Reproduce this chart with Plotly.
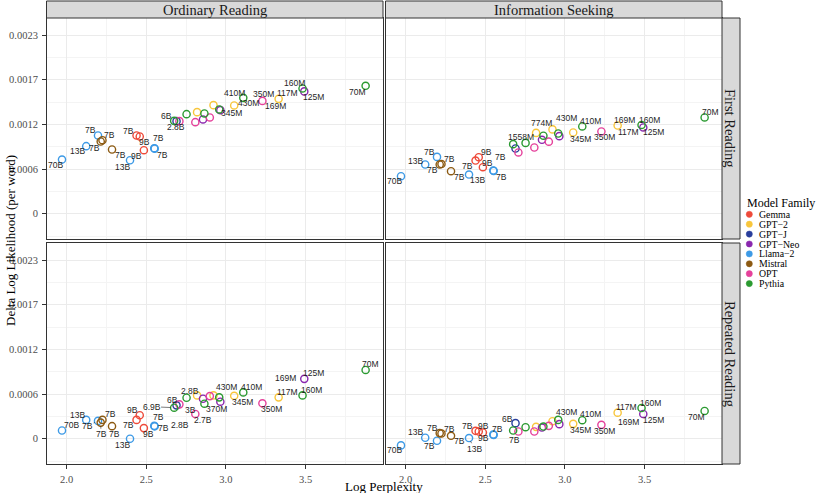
import plotly.graph_objects as go

W, H = 822, 493

# ---------------- data ----------------
families = ["Gemma", "GPT\u22122", "GPT\u2212J", "GPT\u2212Neo", "Llama\u22122", "Mistral", "OPT", "Pythia"]
family_colors = ["#EE4A3A", "#F8C63C", "#293E9C", "#8A27AE", "#3D9AE6", "#8C5A12", "#E5419B", "#2B9A31"]

model_family = ["Llama\u22122", "Llama\u22122", "Llama\u22122", "Mistral", "Mistral", "Mistral", "Llama\u22122",
                "Gemma", "Gemma", "Gemma", "Llama\u22122", "Llama\u22122", "Pythia", "GPT\u2212J", "OPT",
                "Pythia", "OPT", "GPT\u22122", "GPT\u2212Neo", "Pythia", "OPT", "GPT\u22122", "Pythia",
                "GPT\u2212Neo", "GPT\u22122", "Pythia", "OPT", "GPT\u22122", "Pythia", "GPT\u2212Neo", "Pythia"]

log_perplexity = [1.971, 2.123, 2.197, 2.214, 2.225, 2.285, 2.398, 2.439, 2.459, 2.485, 2.550, 2.553,
                  2.675, 2.690, 2.708, 2.753, 2.808, 2.819, 2.856, 2.865, 2.899, 2.922, 2.958, 2.965,
                  3.052, 3.109, 3.229, 3.331, 3.481, 3.492, 3.877]

dll_ordinary_first = [0.000698, 0.000870, 0.001008, 0.000930, 0.000947, 0.000827, 0.000689, 0.001008,
                      0.000995, 0.000818, 0.000844, 0.000838, 0.001196, 0.001192, 0.001192, 0.001282,
                      0.001179, 0.001308, 0.001214, 0.001291, 0.001240, 0.001398, 0.001343, 0.001334,
                      0.001394, 0.001492, 0.001453, 0.001479, 0.001613, 0.001575, 0.001647]
dll_info_first = [0.000483, 0.000634, 0.000732, 0.000634, 0.000640, 0.000548, 0.000505, 0.000685,
                  0.000728, 0.000599, 0.000557, 0.000552, 0.000896, 0.000840, 0.000789, 0.000912,
                  0.000853, 0.001041, 0.000952, 0.001005, 0.000928, 0.001086, 0.001033, 0.000999,
                  0.001046, 0.001124, 0.001059, 0.001136, 0.001143, 0.001111, 0.001240]
dll_ordinary_repeated = [0.000106, 0.000243, 0.000230, 0.000208, 0.000243, 0.000162, 0.0, 0.000243,
                         0.000303, 0.000137, 0.000166, 0.000160, 0.000400, 0.000430, 0.000443, 0.000528,
                         0.000319, 0.000558, 0.000515, 0.000451, 0.000549, 0.000558, 0.000533, 0.000477,
                         0.000553, 0.000597, 0.000456, 0.000533, 0.000558, 0.000771, 0.000886]
dll_info_repeated = [-0.0000856, 0.0000128, -0.0000256, 0.0000728, 0.0000677, 0.0000383, 0.0000089,
                     0.000102, 0.0000933, 0.0000805, 0.000055, 0.000050, 0.000106, 0.000201, 0.0000933,
                     0.000149, 0.0000933, 0.000153, 0.000144, 0.000157, 0.000166, 0.000226, 0.000243,
                     0.000188, 0.000192, 0.000239, 0.000179, 0.000336, 0.000396, 0.000319, 0.000358]

col_titles = ["Ordinary Reading", "Information Seeking"]
row_titles = ["First Reading", "Repeated Reading"]

x_tickvals = [2.0, 2.5, 3.0, 3.5]
x_ticktext = ["2.0", "2.5", "3.0", "3.5"]
y_tickvals = [0, 0.000575, 0.00115, 0.001725, 0.0023]
y_ticktext = ["0", "0.0006", "0.0012", "0.0017", "0.0023"]

# label placement (model index, text, dx px, dy px, leader line) -- repel-style layout
labels_tl = [(0, "70B", -6.3, 5.7, 0), (1, "13B", -8.6, 4.7, 0), (2, "7B", -8, -5.3, 0), (3, "7B", -6, 6.7, 0),
             (4, "7B", 7.3, -4.7, 0), (5, "7B", 8, 5.4, 0), (6, "13B", -7.3, 6.7, 0), (7, "7B", -8, -4.6, 0),
             (8, "9B", 5, 5.4, 0), (9, "9B", -7.3, 5.7, 0), (10, "7B", 4.7, -10, 0), (11, "7B", 7.4, 6, 0),
             (12, "2.8B", 2, 6, 0), (13, "6B", -10.3, -5, 0), (23, "345M", 11.4, 3.3, 0),
             (24, "430M", 14.3, -2, 0), (25, "410M", -8.3, -5, 0), (26, "350M", 1, -6.4, 0),
             (27, "117M", 9, -6, 0), (27, "169M", -3, 7, 0), (28, "160M", -7.7, -5.6, 0),
             (29, "125M", 9, 5.4, 0), (30, "70M", -8.4, 6.3, 0)]
labels_tr = [(0, "70B", -7, 5, 0), (1, "13B", -10, -3.3, 0), (2, "7B", -8, -5, 0), (3, "7B", -7.3, 5.7, 0),
             (4, "7B", 7.7, -5, 0), (5, "7B", 8, 5.7, 0), (6, "13B", 8, 5, 0), (7, "7B", -7.6, 5.4, 0),
             (8, "9B", 7.7, -5.3, 0), (9, "9B", 5, -4.3, 0), (10, "7B", 7, -13.6, 0), (11, "7B", 7.3, 5.7, 0),
             (12, "1558M", 8, -7.3, 0), (17, "774M", 5.3, -9.4, 0), (21, "430M", 13.7, -11.3, 0),
             (24, "345M", 7, 6, 0), (25, "410M", 8.3, -5, 0), (26, "350M", 3, 6, 0),
             (27, "169M", 7, -5.3, 0), (27, "117M", 11, 6, 0), (28, "160M", 8, -5.3, 0),
             (29, "125M", 10.7, 5, 0), (30, "70M", 6, -5.3, 0)]
labels_bl = [(0, "70B", 9, -5.7, 0), (1, "13B", -8.6, -5.3, 0), (2, "7B", -10.4, 5, 1), (3, "7B", 0.3, 11.6, 1),
             (4, "7B", 8, -6, 0), (5, "7B", 2.7, 8, 0), (6, "13B", -7.3, 6.7, 0), (7, "7B", -7.7, 5, 0),
             (8, "9B", -7.3, -5.3, 0), (9, "9B", 4.3, 5.7, 0), (10, "7B", 4.7, -9.3, 0), (11, "7B", 8.4, 1.7, 0),
             (12, "6.9B", -22.6, -1, 1), (13, "6B", -4.3, -5.4, 0), (14, "2.8B", 0.7, 20.7, 0),
             (15, "2.8B", 3.3, -7, 0), (16, "3B", -5.3, -3.7, 0), (16, "2.7B", 8, 6, 0),
             (19, "370M", 12.4, 5.6, 0), (21, "430M", 13.4, -8.6, 0), (24, "345M", 8, 6.3, 0),
             (25, "410M", 8.4, -5.6, 0), (26, "350M", 8.7, 6, 0), (27, "117M", 8.6, -5.6, 0),
             (28, "160M", 9, -5.3, 0), (29, "125M", 9, -5.4, 0), (29, "169M", -18.3, -1, 0),
             (30, "70M", 5.3, -5.7, 0)]
labels_br = [(0, "70B", -6.7, 5, 0), (1, "13B", -10, -5.3, 0), (2, "7B", -8, 5, 0), (3, "7B", -7.6, -5, 0),
             (4, "7B", 7.7, -4.7, 0), (5, "7B", 8, 5, 0), (6, "13B", 5.3, 10.7, 1), (7, "7B", -7.6, -5.3, 0),
             (8, "9B", 5, -6, 0), (9, "9B", 0.6, 5.6, 0), (10, "7B", 4.7, -5.4, 0), (11, "7B", 20.3, 5.3, 0),
             (13, "6B", -7.6, -4.6, 0), (21, "430M", 13.7, -9, 0), (24, "345M", 7.7, 6.3, 0),
             (25, "410M", 8.3, -6, 0), (26, "350M", 3, 6, 0), (27, "117M", 8.7, -5.7, 0),
             (27, "169M", 11, 9, 0), (28, "160M", 9, -5.3, 0), (29, "125M", 10.7, 6, 0),
             (30, "70M", -8.3, 6.3, 0)]

panels = [  # (row, col, values, labels)
    (0, 0, dll_ordinary_first, labels_tl),
    (0, 1, dll_info_first, labels_tr),
    (1, 0, dll_ordinary_repeated, labels_bl),
    (1, 1, dll_info_repeated, labels_br),
]

# ---------------- layout geometry (pixels) ----------------
col_px = [(46.5, 383.0), (385.5, 722.0)]
row_px = [(18.0, 239.0), (243.0, 464.0)]
strip_top = (1.0, 18.0)
strip_right = (722.0, 740.0)
x_range = [1.8737, 3.9861]
y_range = [-0.000325, 0.00252]

SERIF = "Liberation Serif"
SANS = "Liberation Sans"
color_of = dict(zip(families, family_colors))


def fx(p):
    return p / W


def fy(p):
    return 1 - p / H


fig = go.Figure()
annotations = []
shapes = []
layout = {}

for (r, c, vals, labs) in panels:
    k = r * 2 + c + 1
    xa = "x" if k == 1 else f"x{k}"
    ya = "y" if k == 1 else f"y{k}"
    for fam in families:
        idx = [i for i, f in enumerate(model_family) if f == fam]
        if not idx:
            continue
        fig.add_trace(go.Scatter(
            x=[log_perplexity[i] for i in idx], y=[vals[i] for i in idx],
            mode="markers", xaxis=xa, yaxis=ya, showlegend=False, hoverinfo="skip",
            marker=dict(symbol="circle-open", size=7.2, color=color_of[fam],
                        line=dict(width=1.4, color=color_of[fam])),
            cliponaxis=False,
        ))
    for (i, txt, dx, dy, lead) in labs:
        annotations.append(dict(
            x=log_perplexity[i], y=vals[i], xref=xa, yref=ya, text=txt,
            showarrow=True, ax=dx, ay=dy, axref="pixel", ayref="pixel",
            arrowhead=0, arrowwidth=0.6, standoff=3.5,
            arrowcolor="#222222" if lead else "rgba(0,0,0,0)",
            font=dict(family=SANS, size=8.5, color="#1F1F1F"),
            borderpad=0,
        ))
    bottom = r == 1
    left = c == 0
    layout["xaxis" if k == 1 else f"xaxis{k}"] = dict(
        domain=[fx(col_px[c][0]), fx(col_px[c][1])], range=x_range, anchor=ya,
        tickmode="array", tickvals=x_tickvals, ticktext=x_ticktext,
        showticklabels=bottom, ticks="outside" if bottom else "", ticklen=3.5, tickwidth=0.8,
        tickcolor="#333333", showline=True, mirror=True, linecolor="#333333", linewidth=1,
        showgrid=True, gridcolor="#EBEBEB", gridwidth=0.9, zeroline=False,
        minor=dict(tickvals=[1.75, 2.25, 2.75, 3.25, 3.75], showgrid=True, gridcolor="#F4F4F4",
                   gridwidth=0.6, ticks=""),
        tickfont=dict(family=SERIF, size=10.5, color="#4D4D4D"), ticklabelstandoff=2,
    )
    layout["yaxis" if k == 1 else f"yaxis{k}"] = dict(
        domain=[fy(row_px[r][1]), fy(row_px[r][0])], range=y_range, anchor=xa,
        tickmode="array", tickvals=y_tickvals, ticktext=y_ticktext,
        showticklabels=left, ticks="outside" if left else "", ticklen=3.5, tickwidth=0.8,
        tickcolor="#333333", showline=True, mirror=True, linecolor="#333333", linewidth=1,
        showgrid=True, gridcolor="#EBEBEB", gridwidth=0.9, zeroline=False,
        minor=dict(tickvals=[-0.0002875, 0.0002875, 0.0008625, 0.0014375, 0.0020125], showgrid=True,
                   gridcolor="#F4F4F4", gridwidth=0.6, ticks=""),
        tickfont=dict(family=SERIF, size=10.5, color="#4D4D4D"), ticklabelstandoff=2,
    )

# strips
for c, title in enumerate(col_titles):
    shapes.append(dict(type="rect", xref="paper", yref="paper",
                       x0=fx(col_px[c][0]), x1=fx(col_px[c][1]), y0=fy(strip_top[1]), y1=fy(strip_top[0]),
                       fillcolor="#D9D9D9", line=dict(color="#333333", width=1)))
    annotations.append(dict(x=fx((col_px[c][0] + col_px[c][1]) / 2), y=fy((strip_top[0] + strip_top[1]) / 2 + 0.5),
                            xref="paper", yref="paper", text=title, showarrow=False,
                            xanchor="center", yanchor="middle",
                            font=dict(family=SERIF, size=14.5, color="#1A1A1A")))
for r, title in enumerate(row_titles):
    shapes.append(dict(type="rect", xref="paper", yref="paper",
                       x0=fx(strip_right[0]), x1=fx(strip_right[1]), y0=fy(row_px[r][1]), y1=fy(row_px[r][0]),
                       fillcolor="#D9D9D9", line=dict(color="#333333", width=1)))
    annotations.append(dict(x=fx((strip_right[0] + strip_right[1]) / 2 - 0.5), y=fy((row_px[r][0] + row_px[r][1]) / 2),
                            xref="paper", yref="paper", text=title, showarrow=False, textangle=90,
                            xanchor="center", yanchor="middle",
                            font=dict(family=SERIF, size=14.5, color="#1A1A1A")))

# axis titles
annotations.append(dict(x=fx(384), y=fy(486), xref="paper", yref="paper", text="Log Perplexity",
                        showarrow=False, xanchor="center", yanchor="middle",
                        font=dict(family=SERIF, size=13, color="black")))
annotations.append(dict(x=fx(10), y=fy(241), xref="paper", yref="paper", text="Delta Log Likelihood (per word)",
                        showarrow=False, xanchor="center", yanchor="middle", textangle=-90,
                        font=dict(family=SERIF, size=13, color="black")))

# legend (drawn by hand, ggplot style)
annotations.append(dict(x=fx(744.5), y=fy(203), xref="paper", yref="paper", text="Model Family",
                        showarrow=False, xanchor="left", yanchor="middle",
                        font=dict(family=SERIF, size=12, color="black")))
for j, (fam, col) in enumerate(zip(families, family_colors)):
    yc = 214.3 + j * 9.9
    shapes.append(dict(type="circle", xref="paper", yref="paper",
                       x0=fx(749.3 - 3.1), x1=fx(749.3 + 3.1), y0=fy(yc + 3.1), y1=fy(yc - 3.1),
                       fillcolor=col, line=dict(color=col, width=0.5)))
    annotations.append(dict(x=fx(757.3), y=fy(yc), xref="paper", yref="paper", text=fam,
                            showarrow=False, xanchor="left", yanchor="middle",
                            font=dict(family=SERIF, size=9.8, color="black")))

fig.update_layout(
    width=W, height=H, margin=dict(l=0, r=0, t=0, b=0),
    paper_bgcolor="white", plot_bgcolor="white",
    annotations=annotations, shapes=shapes, showlegend=False,
    **layout,
)

fig.write_html("out.html", config={"displayModeBar": False},
               post_script="document.body.style.margin='0';document.body.style.overflow='hidden';")
